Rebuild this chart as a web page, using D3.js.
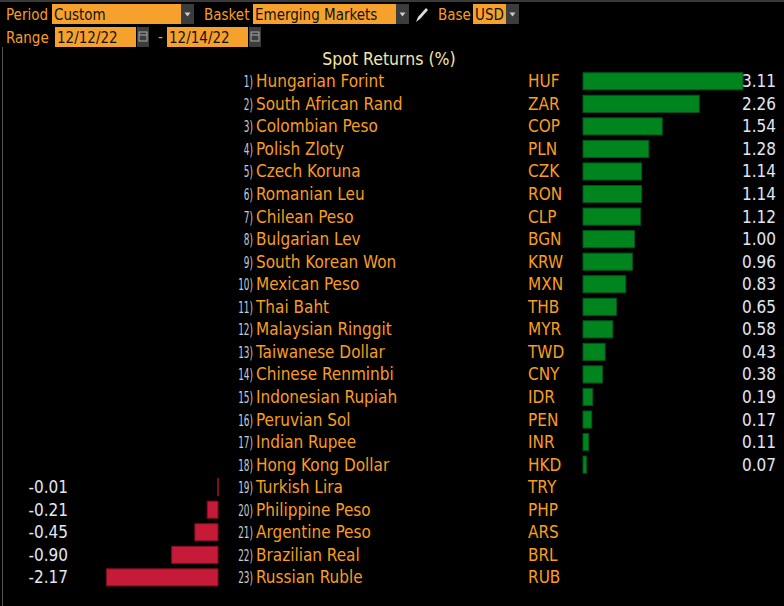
<!DOCTYPE html>
<html>
<head>
<meta charset="utf-8">
<script src="https://cdn.jsdelivr.net/npm/d3@7"></script>
<style>
  body { margin: 0; background: #000; }
  svg { display: block; }
</style>
</head>
<body>
<div id="chart"></div>
<script>
// data
var names = ["Hungarian Forint", "South African Rand", "Colombian Peso", "Polish Zloty", "Czech Koruna",
  "Romanian Leu", "Chilean Peso", "Bulgarian Lev", "South Korean Won", "Mexican Peso", "Thai Baht",
  "Malaysian Ringgit", "Taiwanese Dollar", "Chinese Renminbi", "Indonesian Rupiah", "Peruvian Sol",
  "Indian Rupee", "Hong Kong Dollar", "Turkish Lira", "Philippine Peso", "Argentine Peso",
  "Brazilian Real", "Russian Ruble"]
var codes = ["HUF", "ZAR", "COP", "PLN", "CZK", "RON", "CLP", "BGN", "KRW", "MXN", "THB", "MYR",
  "TWD", "CNY", "IDR", "PEN", "INR", "HKD", "TRY", "PHP", "ARS", "BRL", "RUB"]
var values = [3.11, 2.26, 1.54, 1.28, 1.14, 1.14, 1.12, 1.00, 0.96, 0.83, 0.65, 0.58, 0.43, 0.38,
  0.19, 0.17, 0.11, 0.07, -0.01, -0.21, -0.45, -0.90, -2.17]

var data = names.map(function (d, i) {
  return { rank: i + 1, name: d, code: codes[i], value: values[i] }
})

var width = 784, height = 606
var orange = "#f99d1f"
var font = "'DejaVu Sans Condensed', 'DejaVu Sans', sans-serif"

var svg = d3.select("#chart")
  .append("svg")
  .attr("width", width)
  .attr("height", height)
  .style("font-family", font)

svg.append("rect").attr("width", width).attr("height", height).attr("fill", "#000")

// window frame bits
svg.append("rect").attr("x", 0).attr("y", 0).attr("width", width).attr("height", 2).attr("fill", "#3a3a3a")
svg.append("rect").attr("x", 2).attr("y", 47).attr("width", 1).attr("height", height - 47).attr("fill", "#555")

// ---- header controls ----
function label(x, y, t) {
  svg.append("text").attr("x", x).attr("y", y).attr("fill", orange)
    .style("font-size", "15px").text(t)
}
function field(x, y, w, h, t, drop, icon) {
  svg.append("rect").attr("x", x).attr("y", y).attr("width", w).attr("height", h).attr("fill", "#f7a12d")
  svg.append("text").attr("x", x + 2).attr("y", y + h - 4).attr("fill", "#111")
    .style("font-size", "15px").text(t)
  if (drop) {
    svg.append("rect").attr("x", x + w).attr("y", y).attr("width", 13).attr("height", h).attr("fill", "#3c3c3c")
    svg.append("path").attr("d", "M" + (x + w + 3.5) + "," + (y + h / 2 - 1.5) + "l6,0l-3,4z").attr("fill", "#ccc")
  }
  if (icon) {
    svg.append("rect").attr("x", x + w + 1).attr("y", y).attr("width", 12).attr("height", h).attr("fill", "#3c3c3c")
    svg.append("rect").attr("x", x + w + 3).attr("y", y + 5).attr("width", 8).attr("height", 9)
      .attr("fill", "none").attr("stroke", "#aaa").attr("stroke-width", 1)
    svg.append("line").attr("x1", x + w + 3).attr("x2", x + w + 11).attr("y1", y + 8).attr("y2", y + 8)
      .attr("stroke", "#aaa")
  }
}
label(6, 20, "Period")
field(52, 4, 129, 20, "Custom", true)
label(204, 20, "Basket")
field(253, 4, 143, 20, "Emerging Markets", true)
// pencil
svg.append("path").attr("d", "M416,22 l2,-5 l8,-9 l2,2 l-8,9 z").attr("fill", "#ddd")
label(438, 20, "Base")
field(473, 4, 33, 20, "USD", true)

label(6, 43, "Range")
field(55, 27, 81, 20, "12/12/22", false, true)
svg.append("text").attr("x", 158).attr("y", 42).attr("fill", orange).style("font-size", "15px").text("-")
field(167, 27, 81, 20, "12/14/22", false, true)

svg.append("text").attr("x", 389).attr("y", 65).attr("text-anchor", "middle")
  .attr("fill", "#f4e6a6").style("font-size", "17.5px").text("Spot Returns (%)")

// ---- chart ----
var y = d3.scaleBand()
  .domain(data.map(function (d) { return d.rank }))
  .range([70, 70 + 23 * 22.55])
  .paddingInner(0.24)
  .paddingOuter(0.12)

// bar length scale (same px per unit on both sides)
var len = d3.scaleLinear().domain([0, 3.11]).range([0, 160])
var posZero = 583, negZero = 218

var rows = svg.append("g").selectAll("g").data(data).enter().append("g")

rows.append("rect")
  .attr("x", function (d) { return d.value >= 0 ? posZero : negZero - len(-d.value) })
  .attr("y", function (d) { return y(d.rank) })
  .attr("width", function (d) { return Math.max(1, len(Math.abs(d.value))) })
  .attr("height", y.bandwidth())
  .attr("fill", function (d) { return d.value >= 0 ? "#00841e" : "#c51a38" })
  .attr("stroke", function (d) { return d.value >= 0 ? "#00551a" : "#7a1020" })
  .attr("stroke-width", 1)

function mid(d) { return y(d.rank) + y.bandwidth() / 2 + 6 }

// rank numbers: narrow, squeezed horizontally
rows.append("text")
  .attr("transform", function (d) { return "translate(253," + mid(d) + ") scale(0.62,1)" })
  .attr("text-anchor", "end")
  .attr("fill", "#c4cbd8")
  .style("font-size", "16px")
  .text(function (d) { return d.rank + ")" })

rows.append("text")
  .attr("x", 256)
  .attr("y", mid)
  .attr("fill", orange)
  .style("font-size", "17px")
  .text(function (d) { return d.name })

rows.append("text")
  .attr("x", 528)
  .attr("y", mid)
  .attr("fill", orange)
  .style("font-size", "17px")
  .text(function (d) { return d.code })

rows.append("text")
  .attr("x", function (d) { return d.value >= 0 ? 776 : 68 })
  .attr("y", mid)
  .attr("text-anchor", "end")
  .attr("fill", "#e2e7f0")
  .style("font-size", "17px")
  .text(function (d) { return d3.format(".2f")(d.value).replace("\u2212", "-") })
</script>
</body>
</html>
